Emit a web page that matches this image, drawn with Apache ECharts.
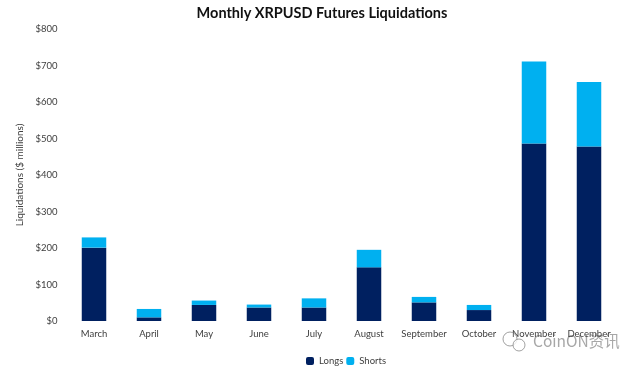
<!DOCTYPE html>
<html><head><meta charset="utf-8">
<style>html,body{margin:0;padding:0;background:#fff}#c{width:641px;height:370px}</style>
<script src="https://cdn.jsdelivr.net/npm/echarts@6/dist/echarts.min.js"></script>
</head><body><div id="c"></div>
<script>
const categories=['March','April','May','June','July','August','September','October','November','December'];
const longs=[201,10,44,37,37,147,51,30,486,478];
const shorts=[28,23,12,8,25,48,15,14,225,177];
const yTicks=[0,800,100];
const FONT='Lato, "Open Sans", sans-serif';
const chart=echarts.init(document.getElementById('c'),null,{renderer:'canvas'});
chart.setOption({
  animation:false,
  title:{text:'Monthly XRPUSD Futures Liquidations',left:317,textAlign:'center',top:1,
    textStyle:{fontFamily:FONT,fontSize:14.5,fontWeight:'bold',color:'#111'}},
  legend:{top:356,left:306,itemWidth:8,itemHeight:8,itemGap:3,padding:0,
    textStyle:{fontFamily:FONT,fontSize:9.5,color:'#404040'},
    data:[{name:'Longs',icon:'roundRect'},{name:'Shorts',icon:'roundRect'}]},
  grid:{left:66.5,right:24.5,top:29,bottom:49},
  xAxis:{type:'category',data:categories,
    axisLine:{show:false},axisTick:{show:false},
    axisLabel:{fontFamily:FONT,fontSize:9.5,color:'#404040',margin:8,interval:0}},
  yAxis:{type:'value',min:yTicks[0],max:yTicks[1],interval:yTicks[2],
    name:'Liquidations ($ millions)',nameLocation:'middle',nameGap:41,
    nameTextStyle:{fontFamily:FONT,fontSize:10,color:'#404040'},
    splitLine:{show:false},axisLine:{show:false},axisTick:{show:false},
    axisLabel:{fontFamily:FONT,fontSize:9.5,color:'#404040',margin:9,formatter:v=>'$'+v}},
  series:[
    {name:'Longs',type:'bar',stack:'t',data:longs,barWidth:24.5,itemStyle:{color:'#002060'}},
    {name:'Shorts',type:'bar',stack:'t',data:shorts,barWidth:24.5,itemStyle:{color:'#00B0F0'}}
  ],
  graphic:[
    {type:'circle',silent:true,shape:{cx:510,cy:339,r:7},style:{fill:'rgba(255,255,255,0.8)',stroke:'rgba(130,130,130,0.75)',lineWidth:1}},
    {type:'circle',silent:true,shape:{cx:519,cy:345,r:6},style:{fill:'rgba(255,255,255,0.8)',stroke:'rgba(130,130,130,0.75)',lineWidth:1}},
    {type:'text',left:533,top:333,silent:true,
    style:{text:'CoinON资讯',fontFamily:'"Noto Sans CJK SC", sans-serif',fontSize:15.5,fill:'rgba(130,130,130,0.7)'}}]
});
</script></body></html>
